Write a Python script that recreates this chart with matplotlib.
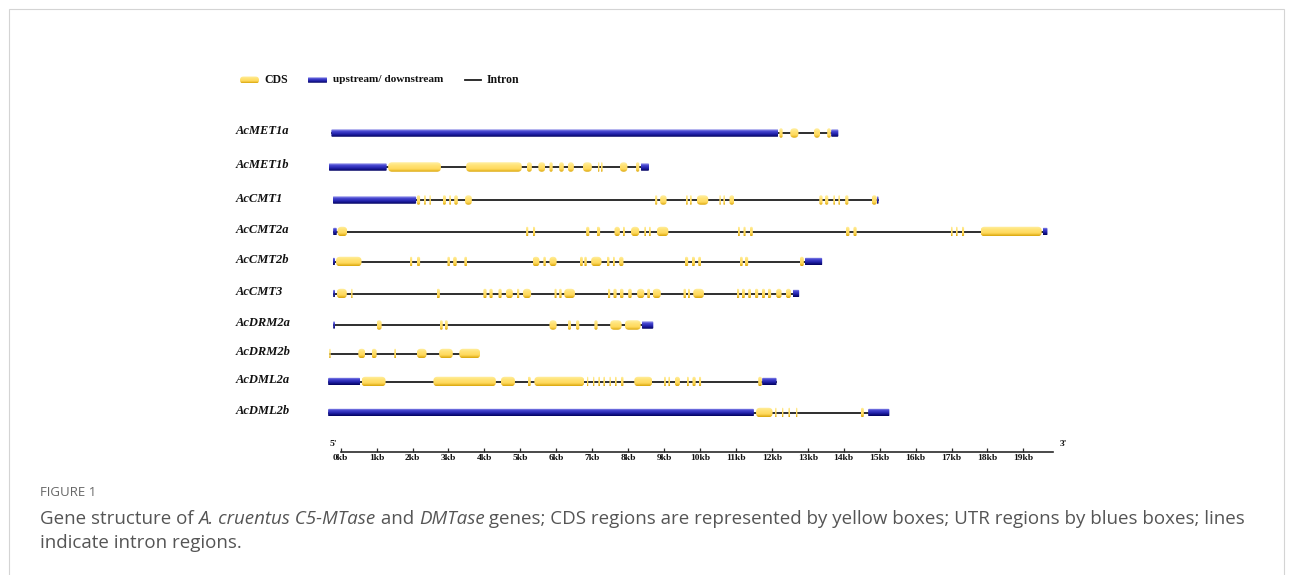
import matplotlib
matplotlib.use("Agg")
import matplotlib.pyplot as plt
import matplotlib.transforms as mtransforms
import numpy as np
from matplotlib.patches import FancyBboxPatch
from matplotlib.colors import LinearSegmentedColormap
from matplotlib.font_manager import FontProperties

# ---------------------------------------------------------------- data (kb)
genes = ["AcMET1a", "AcMET1b", "AcCMT1", "AcCMT2a", "AcCMT2b",
         "AcCMT3", "AcDRM2a", "AcDRM2b", "AcDML2a", "AcDML2b"]

met1a_utr = [(-0.26, 12.18), (13.65, 13.85)]
met1a_cds = [(12.21, 12.30), (12.51, 12.74), (13.17, 13.34), (13.54, 13.64)]

met1b_utr = [(-0.33, 1.28), (8.35, 8.58)]
met1b_cds = [(1.32, 2.79), (3.49, 5.04), (5.18, 5.32), (5.50, 5.69), (5.81, 5.90),
             (6.08, 6.21), (6.32, 6.49), (6.74, 6.99), (7.15, 7.20), (7.24, 7.29),
             (7.77, 7.98), (8.22, 8.31)]

cmt1_utr = [(-0.22, 2.10), (14.92, 14.97)]
cmt1_cds = [(2.12, 2.21), (2.32, 2.37), (2.47, 2.51), (2.84, 2.93), (3.02, 3.07),
            (3.16, 3.26), (3.46, 3.65), (8.75, 8.81), (8.89, 9.07), (9.61, 9.66),
            (9.72, 9.77), (9.91, 10.23), (10.54, 10.58), (10.65, 10.70), (10.82, 10.95),
            (13.32, 13.41), (13.48, 13.57), (13.71, 13.76), (13.85, 13.90),
            (14.04, 14.13), (14.78, 14.92)]

cmt2a_utr = [(-0.21, -0.11), (19.54, 19.67)]
cmt2a_cds = [(-0.09, 0.18), (5.16, 5.22), (5.34, 5.41), (6.83, 6.92), (7.12, 7.22),
             (7.62, 7.77), (7.85, 7.91), (8.08, 8.31), (8.45, 8.50), (8.58, 8.63),
             (8.80, 9.12), (11.05, 11.11), (11.21, 11.27), (11.39, 11.47),
             (14.06, 14.16), (14.27, 14.36), (16.98, 17.03), (17.12, 17.17),
             (17.28, 17.35), (17.81, 19.51)]

cmt2b_utr = [(-0.22, -0.16), (12.92, 13.40)]
cmt2b_cds = [(-0.13, 0.58), (1.93, 1.99), (2.12, 2.21), (2.97, 3.04), (3.13, 3.23),
             (3.44, 3.52), (5.34, 5.53), (5.64, 5.71), (5.81, 6.01), (6.66, 6.74),
             (6.78, 6.85), (6.97, 7.26), (7.40, 7.48), (7.57, 7.63), (7.75, 7.87),
             (9.58, 9.67), (9.77, 9.86), (9.95, 10.03), (11.11, 11.19),
             (11.25, 11.34), (12.78, 12.89)]

cmt3_utr = [(-0.21, -0.16), (12.58, 12.76)]
cmt3_cds = [(-0.11, 0.17), (0.29, 0.33), (2.67, 2.76), (3.97, 4.06), (4.14, 4.23),
            (4.39, 4.48), (4.60, 4.79), (4.90, 4.97), (5.07, 5.30), (5.95, 6.01),
            (6.08, 6.15), (6.22, 6.52), (7.43, 7.50), (7.59, 7.68), (7.77, 7.87),
            (8.00, 8.10), (8.25, 8.45), (8.53, 8.61), (8.68, 8.91), (9.54, 9.61),
            (9.66, 9.72), (9.81, 10.11), (11.02, 11.09), (11.16, 11.25),
            (11.34, 11.42), (11.53, 11.62), (11.72, 11.81), (11.88, 11.98),
            (12.12, 12.27), (12.39, 12.53)]

drm2a_utr = [(-0.21, -0.16), (8.38, 8.70)]
drm2a_cds = [(1.00, 1.14), (2.76, 2.84), (2.90, 2.98), (5.81, 6.01), (6.32, 6.41),
             (6.55, 6.64), (7.06, 7.15), (7.50, 7.82), (7.91, 8.35)]

drm2b_utr = []
drm2b_cds = [(-0.32, -0.28), (0.49, 0.68), (0.86, 1.00), (1.49, 1.54), (2.12, 2.39),
             (2.74, 3.12), (3.30, 3.88)]

dml2a_utr = [(-0.35, 0.54), (11.73, 12.13)]
dml2a_cds = [(0.58, 1.25), (2.58, 4.32), (4.46, 4.85), (5.20, 5.29), (5.39, 6.78),
             (6.85, 6.89), (7.01, 7.06), (7.17, 7.22), (7.31, 7.36), (7.48, 7.52),
             (7.63, 7.68), (7.80, 7.87), (8.17, 8.67), (9.00, 9.05), (9.12, 9.17),
             (9.30, 9.44), (9.63, 9.69), (9.79, 9.88), (9.97, 10.03), (11.62, 11.72)]

dml2b_utr = [(-0.35, 11.50), (14.68, 15.27)]
dml2b_cds = [(11.56, 12.02), (12.09, 12.13), (12.27, 12.32), (12.46, 12.51),
             (12.66, 12.71), (14.48, 14.56)]

gene_utrs = [met1a_utr, met1b_utr, cmt1_utr, cmt2a_utr, cmt2b_utr,
             cmt3_utr, drm2a_utr, drm2b_utr, dml2a_utr, dml2b_utr]
gene_cdss = [met1a_cds, met1b_cds, cmt1_cds, cmt2a_cds, cmt2b_cds,
             cmt3_cds, drm2a_cds, drm2b_cds, dml2a_cds, dml2b_cds]

scale_ticks = list(range(0, 20))
scale_labels = [f"{k}kb" for k in scale_ticks]
scale_end = 19.82

legend_labels = ["CDS", "upstream/ downstream", "Intron"]

caption_head = "FIGURE 1"
caption_line1 = [("Gene structure of ", "normal"), ("A. cruentus C5-MTase", "italic"),
                 (" and ", "normal"), ("DMTase", "italic"),
                 (" genes; CDS regions are represented by yellow boxes; UTR regions by blues boxes; lines",
                  "normal")]
caption_line2 = [("indicate intron regions.", "normal")]

# ---------------------------------------------------------------- layout
W, H, DPI = 1292, 575, 100
KB0_PX, PX_PER_KB = 340.7, 35.93
XMIN, XMAX = -0.5, 20.0
ROW_PX = [133, 167, 200, 231.5, 261.5, 293.5, 325, 353.5, 381.5, 412.5]
TOP_PX, BOT_PX = 100, 440
SERIF = "Liberation Serif"
CAP_FONT = "Open Sans"

fig = plt.figure(figsize=(W / DPI, H / DPI), dpi=DPI)
fig.patch.set_facecolor("white")


def frect(x0, y0, x1, y1):
    return [x0 / W, 1 - y1 / H, (x1 - x0) / W, (y1 - y0) / H]


# full-figure overlay in pixel units for frame, legend and caption
ov = fig.add_axes([0, 0, 1, 1])
ov.set_xlim(0, W)
ov.set_ylim(H, 0)
ov.axis("off")

# gene panel: x in kb, y in pixel rows
left_px = KB0_PX + XMIN * PX_PER_KB
right_px = KB0_PX + XMAX * PX_PER_KB
ax = fig.add_axes(frect(left_px, TOP_PX, right_px, BOT_PX))
ax.axis("off")
ASP = PX_PER_KB  # y-units per x-unit, so corners round equally in pixels

yellow = LinearSegmentedColormap.from_list(
    "cds", [(0, "#fff1a6"), (0.3, "#ffe47a"), (0.7, "#ffd95c"), (1, "#d9a50a")])
blue = LinearSegmentedColormap.from_list(
    "utr", [(0, "#b8b8f2"), (0.25, "#4b4bd4"), (0.6, "#2424ae"), (1, "#00005c")])
GRAD = np.linspace(0, 1, 64).reshape(-1, 1)


def grad_box(a, x0, x1, yc, h, cmap, r, asp, z):
    w = x1 - x0
    rr = max(0.0, min(r, w / 2, (h / asp) / 2))
    patch = FancyBboxPatch((x0, yc - h / 2), w, h,
                           boxstyle=f"round,pad=0,rounding_size={rr}",
                           mutation_aspect=asp, facecolor="none",
                           edgecolor="none", zorder=z)
    a.add_patch(patch)
    im = a.imshow(GRAD, extent=(x0, x1, yc + h / 2, yc - h / 2), origin="upper",
                  aspect="auto", cmap=cmap, interpolation="bilinear", zorder=z)
    im.set_clip_path(patch)


CDS_H = 9.5
UTR_H = 7.5
for yrow, utrs, cdss in zip(ROW_PX, gene_utrs, gene_cdss):
    segs = utrs + cdss
    start = min(s for s, _ in segs)
    end = max(e for _, e in segs)
    ax.plot([start, end], [yrow, yrow], color="#1e1e1e", lw=1.3, zorder=1,
            solid_capstyle="butt")
    for s, e in utrs:
        grad_box(ax, s, e, yrow, UTR_H, blue, 1.0 / PX_PER_KB, ASP, 2)
    for s, e in cdss:
        grad_box(ax, s, e, yrow, CDS_H, yellow, 4.0 / PX_PER_KB, ASP, 3)

ax.set_xlim(XMIN, XMAX)
ax.set_ylim(BOT_PX, TOP_PX)

# gene names
name_tf = mtransforms.blended_transform_factory(ov.transData, ax.transData)
for yrow, g in zip(ROW_PX, genes):
    ax.text(236, yrow - 1.5, g, transform=name_tf, ha="left", va="center",
            fontsize=9, family=SERIF, weight="bold", style="italic",
            color="#111111")

# kb scale bar
axs = fig.add_axes(frect(left_px, 440, right_px, 452))
axs.set_xlim(XMIN, XMAX)
axs.set_ylim(0, 1)
axs.patch.set_alpha(0)
for sp in ("top", "left", "right"):
    axs.spines[sp].set_visible(False)
axs.spines["bottom"].set_bounds(0, scale_end)
axs.spines["bottom"].set_linewidth(1.2)
axs.spines["bottom"].set_color("#2a2a2a")
axs.set_yticks([])
axs.set_xticks(scale_ticks)
axs.set_xticklabels(scale_labels, family=SERIF, weight="bold", fontsize=6.8)
axs.tick_params(axis="x", direction="in", length=3, width=0.9, pad=1.5,
                color="#2a2a2a", labelcolor="#111111")
ov.text(330, 444, "5'", family=SERIF, weight="bold", fontsize=6.8,
        ha="left", va="center", color="#111111")
ov.text(1060, 444, "3'", family=SERIF, weight="bold", fontsize=6.8,
        ha="left", va="center", color="#111111")

# legend
grad_box(ov, 240, 259, 80, 7, yellow, 3.5, 1.0, 3)
ov.text(264, 80, legend_labels[0], family=SERIF, weight="bold", fontsize=8.5,
        ha="left", va="center", color="#111111")
grad_box(ov, 308, 327, 80, 5.5, blue, 0.5, 1.0, 3)
ov.text(333, 80, legend_labels[1], family=SERIF, weight="bold", fontsize=8.1,
        ha="left", va="center", color="#111111")
ov.plot([465, 481], [80, 80], color="#1e1e1e", lw=1.3)
ov.text(487, 80, legend_labels[2], family=SERIF, weight="bold", fontsize=8.5,
        ha="left", va="center", color="#111111")

# frame
frame_c = "#d4d4d4"
ov.plot([8.5, 8.5, 1283.5, 1283.5], [H + 5, 8.5, 8.5, H + 5], color=frame_c,
        lw=0.8, solid_joinstyle="miter")

# caption
renderer = fig.canvas.get_renderer()


def run_width(text, fp):
    w1, _, _ = renderer.get_text_width_height_descent(text + "|", fp, ismath=False)
    w2, _, _ = renderer.get_text_width_height_descent("|", fp, ismath=False)
    return w1 - w2


def line_width(runs, size):
    return sum(run_width(t, FontProperties(family=CAP_FONT, style=s, size=size))
               for t, s in runs)


target = 1247 - 40
cap_size = 10.0 * target / line_width(caption_line1, 10.0)


def draw_runs(runs, x, y, size):
    for t, s in runs:
        fp = FontProperties(family=CAP_FONT, style=s, size=size)
        ov.text(x, y, t, fontproperties=fp, color="#555555", ha="left",
                va="baseline")
        x += run_width(t, fp)


ov.text(40, 496, caption_head, family=CAP_FONT, fontsize=9.5, color="#666666",
        ha="left", va="baseline")
draw_runs(caption_line1, 40, 524, cap_size)
draw_runs(caption_line2, 40, 548, cap_size)

fig.savefig("out.png", dpi=DPI, facecolor="white")
